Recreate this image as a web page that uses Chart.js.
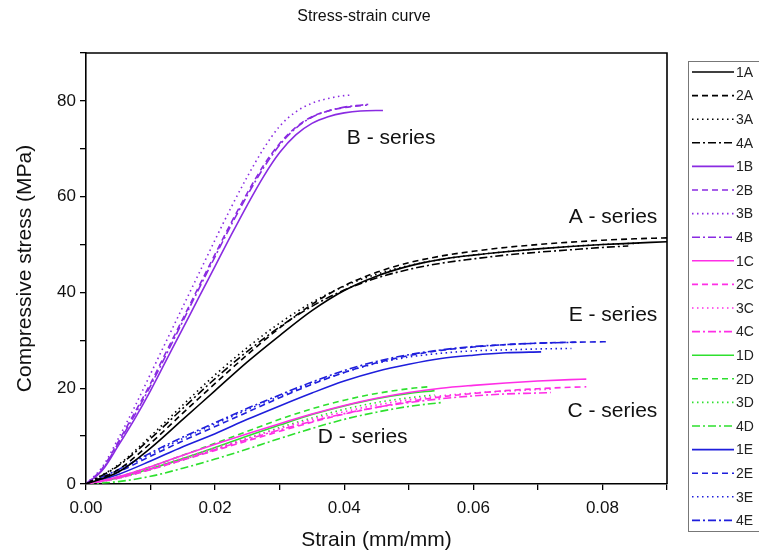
<!DOCTYPE html>
<html>
<head>
<meta charset="utf-8">
<script src="https://cdn.jsdelivr.net/npm/chart.js@4/dist/chart.umd.min.js"></script>
<style>
html,body{margin:0;padding:0;background:#fff;}
#wrap{width:759px;height:555px;position:relative;}
</style>
</head>
<body>
<div id="wrap"><canvas id="c" width="759" height="555"></canvas></div>
<script>
// ---- Data (strain in mm/mm, stress in MPa) ----
const strainA = [0,0.005,0.01,0.015,0.02,0.025,0.03,0.035,0.04,0.045,0.05,0.055,0.06,0.065,0.07,0.075,0.08,0.085,0.09];
const stress1A = [0,2.5,7.5,13.5,19.5,25.5,31.0,36.2,40.4,43.4,45.5,46.9,47.8,48.5,49.1,49.6,50.0,50.3,50.6];
const stress2A = [0,3,8.5,14.8,21,27,32.6,37.5,41.4,44.2,46.2,47.6,48.6,49.4,50.0,50.5,50.9,51.2,51.4];
const strain3A = [0,0.005,0.01,0.015,0.02,0.025,0.03,0.035,0.04,0.045,0.05,0.055,0.06,0.065,0.07,0.075,0.08,0.086];
const stress3A = [0,4,10,16.5,22.8,28.5,33.6,37.9,41.3,43.8,45.6,46.9,47.8,48.5,49.1,49.6,50.0,50.3];
const strain4A = [0,0.005,0.01,0.015,0.02,0.025,0.03,0.035,0.04,0.045,0.05,0.055,0.06,0.065,0.07,0.075,0.08,0.084];
const stress4A = [0,3.8,9.5,15.8,22,27.7,32.8,37.1,40.5,43.0,44.8,46.1,47.0,47.8,48.4,48.9,49.4,49.7];

const strain1B = [0,0.0025,0.005,0.0075,0.01,0.0125,0.015,0.0175,0.02,0.0225,0.025,0.0275,0.03,0.0325,0.035,0.0375,0.04,0.0425,0.046];
const stress1B = [0,2.8,8,13.5,19.5,26,32.5,39,45.5,52,58.3,64.2,69.2,72.9,75.3,76.7,77.5,77.9,78];
const strain2B = [0,0.0025,0.005,0.0075,0.01,0.0125,0.015,0.0175,0.02,0.0225,0.025,0.0275,0.03,0.0325,0.035,0.0375,0.04,0.0425,0.0435];
const stress2B = [0,3.2,8.8,14.8,21,27.8,34.5,41.3,48,54.6,60.8,66.5,71.1,74.5,76.7,77.9,78.6,79.0,79.1];
const strain3B = [0,0.0025,0.005,0.0075,0.01,0.0125,0.015,0.0175,0.02,0.0225,0.025,0.0275,0.03,0.0325,0.035,0.0375,0.04,0.041];
const stress3B = [0,3.5,9.5,16,23,30,37,44,51,57.8,64.2,70.0,74.7,77.7,79.5,80.5,81.1,81.2];
const strain4B = [0,0.0025,0.005,0.0075,0.01,0.0125,0.015,0.0175,0.02,0.0225,0.025,0.0275,0.03,0.0325,0.035,0.0375,0.04,0.0425,0.044];
const stress4B = [0,3,8.5,14.3,20.5,27.2,34,40.8,47.5,54.1,60.3,66.0,70.8,74.3,76.6,77.9,78.7,79.1,79.3];

const strain1C = [0,0.005,0.01,0.015,0.02,0.025,0.03,0.035,0.04,0.045,0.05,0.055,0.06,0.065,0.07,0.075,0.0775];
const stress1C = [0,1.5,3.6,6,8.3,10.5,12.6,14.6,16.4,17.9,19.1,20,20.6,21.1,21.5,21.8,21.9];
const strain2C = [0,0.005,0.01,0.015,0.02,0.025,0.03,0.035,0.04,0.045,0.05,0.055,0.06,0.065,0.07,0.075,0.0775];
const stress2C = [0,1.2,3,5,7,9,11,12.9,14.6,16,17.2,18.2,18.9,19.5,19.9,20.2,20.3];
const strain3C = [0,0.005,0.01,0.015,0.02,0.025,0.03,0.035,0.04,0.045,0.05,0.055,0.06,0.065,0.07,0.072];
const stress3C = [0,1.4,3.3,5.4,7.5,9.6,11.6,13.5,15.1,16.5,17.6,18.4,19,19.4,19.7,19.8];
const strain4C = [0,0.005,0.01,0.015,0.02,0.025,0.03,0.035,0.04,0.045,0.05,0.055,0.06,0.065,0.07,0.072];
const stress4C = [0,1.3,3.1,5.1,7.2,9.3,11.3,13.1,14.7,16.0,17.0,17.8,18.4,18.8,19.0,19.1];

const strain1D = [0,0.005,0.01,0.015,0.02,0.025,0.03,0.035,0.04,0.045,0.05,0.054];
const stress1D = [0,1.3,3.2,5.3,7.6,10,12.3,14.5,16.3,17.8,18.9,19.5];
const strain2D = [0,0.005,0.01,0.015,0.02,0.025,0.03,0.035,0.04,0.045,0.05,0.053];
const stress2D = [0,1.5,3.6,6,8.5,11,13.5,15.7,17.5,18.9,19.9,20.3];
const strain3D = [0,0.005,0.01,0.015,0.02,0.025,0.03,0.035,0.04,0.045,0.05,0.054];
const stress3D = [0,1.2,3,5,7.2,9.5,11.8,13.8,15.6,17,18,18.6];
const strain4D = [0,0.005,0.01,0.015,0.02,0.025,0.03,0.035,0.04,0.045,0.05,0.055];
const stress4D = [0,0.5,1.6,3.3,5.2,7.3,9.5,11.6,13.5,15,16.2,17];

const strain1E = [0,0.005,0.01,0.015,0.02,0.025,0.03,0.035,0.04,0.045,0.05,0.055,0.06,0.065,0.0705];
const stress1E = [0,2,4.8,7.8,10.5,13.5,16.3,19,21.5,23.5,25,26.2,26.9,27.4,27.6];
const strain2E = [0,0.005,0.01,0.015,0.02,0.025,0.03,0.035,0.04,0.045,0.05,0.055,0.06,0.065,0.07,0.075,0.0806];
const stress2E = [0,2.5,5.8,9,12,15,18,20.8,23.3,25.3,26.8,27.9,28.6,29.1,29.4,29.6,29.7];
const strain3E = [0,0.005,0.01,0.015,0.02,0.025,0.03,0.035,0.04,0.045,0.05,0.055,0.06,0.065,0.07,0.0752];
const stress3E = [0,2.8,6.2,9.5,12.5,15.5,18.3,21,23.3,25.2,26.5,27.3,27.8,28,28.2,28.3];
const strain4E = [0,0.005,0.01,0.015,0.02,0.025,0.03,0.035,0.04,0.045,0.05,0.055,0.06,0.065,0.07,0.076];
const stress4E = [0,3,6.5,9.8,12.8,15.8,18.6,21.3,23.7,25.6,27,28,28.7,29.1,29.4,29.6];

const seriesLabels = ['1A','2A','3A','4A','1B','2B','3B','4B','1C','2C','3C','4C','1D','2D','3D','4D','1E','2E','3E','4E'];
const seriesStrain = [strainA,strainA,strain3A,strain4A,strain1B,strain2B,strain3B,strain4B,strain1C,strain2C,strain3C,strain4C,strain1D,strain2D,strain3D,strain4D,strain1E,strain2E,strain3E,strain4E];
const seriesStress = [stress1A,stress2A,stress3A,stress4A,stress1B,stress2B,stress3B,stress4B,stress1C,stress2C,stress3C,stress4C,stress1D,stress2D,stress3D,stress4D,stress1E,stress2E,stress3E,stress4E];

const groupNames = ['A - series','B - series','C - series','D - series','E - series'];
const groupLabelX = [0.0885,0.0404,0.0885,0.0359,0.0885];
const groupLabelY = [55.8,72.3,15.2,9.8,35.2];
const groupLabelAlign = ['right','left','right','left','right'];

// ---- Styles ----
const groupColors = ['#000000','#8A2BE2','#FF2EE6','#2EE02E','#1E1EDC'];
const dashStyles = [[],[6,4],[1.5,3.5],[8,3,2,3]];
const FONT = "'Liberation Sans', Arial, sans-serif";

const datasets = seriesLabels.map((lab,i)=>({
  label: lab,
  data: seriesStrain[i].map((x,j)=>({x:x,y:seriesStress[i][j]})),
  borderColor: groupColors[Math.floor(i/4)],
  borderDash: dashStyles[i%4],
  borderWidth: 1.6,
  pointRadius: 0,
  showLine: true,
  fill: false,
  cubicInterpolationMode: 'monotone'
}));

const framePlugin = {
  id: 'frame',
  afterDraw(chart){
    const {ctx, chartArea:a, scales} = chart;
    ctx.save();
    ctx.strokeStyle = '#000';
    ctx.lineWidth = 1.6;
    ctx.beginPath();
    ctx.moveTo(a.left, a.top); ctx.lineTo(a.right, a.top); ctx.lineTo(a.right, a.bottom);
    ctx.stroke();
    // title
    ctx.fillStyle = '#111';
    ctx.font = '16px ' + FONT;
    ctx.textAlign = 'center'; ctx.textBaseline = 'middle';
    ctx.fillText('Stress-strain curve', 364, 17);
    // group labels
    ctx.font = '21px ' + FONT;
    ctx.fillStyle = '#111';
    for (let g=0; g<groupNames.length; g++){
      ctx.textAlign = groupLabelAlign[g];
      ctx.fillText(groupNames[g], scales.x.getPixelForValue(groupLabelX[g]), scales.y.getPixelForValue(groupLabelY[g]));
    }
    // legend
    const lx = 688, ly = 61, lw = 80, lh = 470;
    ctx.strokeStyle = '#777'; ctx.lineWidth = 1; ctx.setLineDash([]);
    ctx.strokeRect(lx+0.5, ly+0.5, lw, lh);
    ctx.font = '14px ' + FONT;
    ctx.textAlign = 'left'; ctx.textBaseline = 'middle';
    chart.data.datasets.forEach((ds,i)=>{
      const y = 72 + i*23.6;
      ctx.strokeStyle = ds.borderColor; ctx.lineWidth = 1.6;
      ctx.setLineDash(ds.borderDash);
      ctx.beginPath(); ctx.moveTo(692, y); ctx.lineTo(734, y); ctx.stroke();
      ctx.setLineDash([]);
      ctx.fillStyle = '#222';
      ctx.fillText(ds.label, 736, y+1);
    });
    ctx.restore();
  }
};

new Chart(document.getElementById('c'), {
  type: 'scatter',
  data: { datasets },
  plugins: [framePlugin],
  options: {
    responsive: false,
    animation: false,
    layout: { padding: { top: 53, right: 92, left: 0, bottom: 0 } },
    plugins: { legend: { display: false }, tooltip: { enabled: false }, title: { display: false } },
    scales: {
      x: {
        type: 'linear', min: 0, max: 0.09,
        afterFit(s){ s.height = 71; },
        border: { color: '#000', width: 1.6 },
        grid: { drawOnChartArea: false, tickLength: 6, color: '#000', lineWidth: 1.3 },
        ticks: {
          stepSize: 0.01, autoSkip: false, maxRotation: 0, padding: 8, color: '#111',
          font: { family: FONT, size: 17 },
          callback(v){ const k = Math.round(v*100); return (k%2===0) ? (k/100).toFixed(2) : ''; }
        },
        title: { display: true, text: 'Strain (mm/mm)', color: '#111', font: { family: FONT, size: 21 }, padding: { top: 0, bottom: 2 } }
      },
      y: {
        type: 'linear', min: 0, max: 90,
        afterFit(s){ s.width = 86; },
        border: { color: '#000', width: 1.6 },
        grid: { drawOnChartArea: false, tickLength: 6, color: '#000', lineWidth: 1.3 },
        ticks: {
          stepSize: 10, autoSkip: false, padding: 4, color: '#111',
          font: { family: FONT, size: 17 },
          callback(v){ return (Math.round(v)%20===0) ? String(Math.round(v)) : ''; }
        },
        title: { display: true, text: 'Compressive stress (MPa)', color: '#111', font: { family: FONT, size: 21 }, padding: { top: 13, bottom: 0 } }
      }
    }
  }
});
</script>
</body>
</html>
